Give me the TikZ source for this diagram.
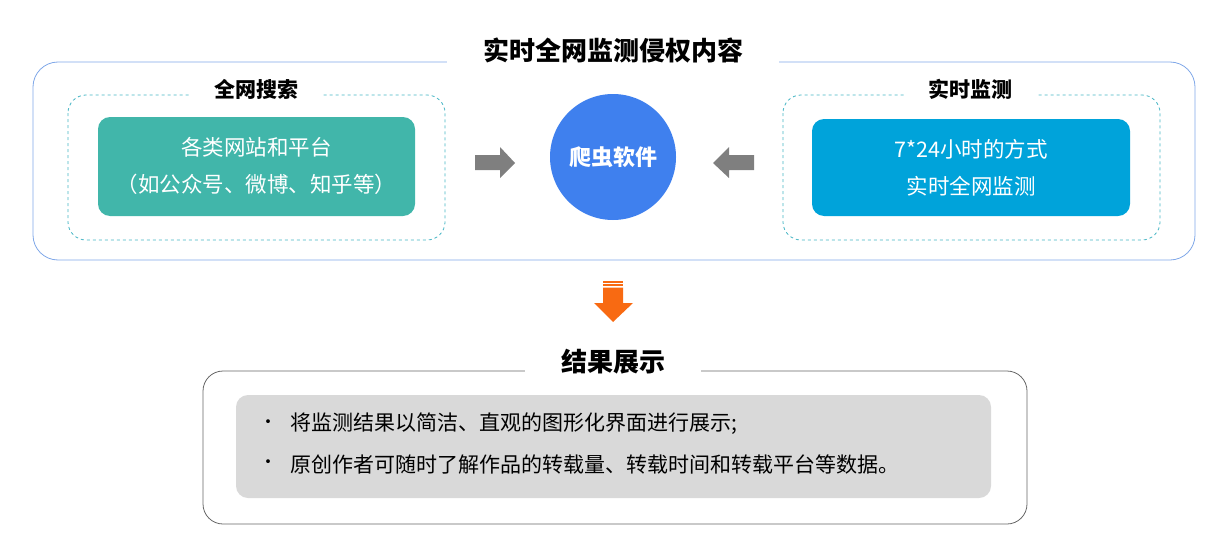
\documentclass[tikz,border=0pt]{standalone}
\usepackage{fontspec}
\setmainfont{Noto Sans CJK SC}
\begin{document}
\begin{tikzpicture}[x=1pt,y=-1pt,
  ttl/.style={fill=white,inner xsep=36pt,font=\fontsize{26}{28}\selectfont\bfseries},
  sttl/.style={fill=white,inner xsep=24pt,font=\fontsize{21}{23}\selectfont\bfseries},
  btxt/.style={text=white,font=\fontsize{21.5}{24}\selectfont},
  dbox/.style={draw=dcol,dashed,line width=0.8pt,rounded corners=18pt},
  btx/.style={anchor=west,font=\fontsize{21}{24}\selectfont}]
\useasboundingbox (0,0) rectangle (1231,551);
\definecolor{outer}{HTML}{7FA7E8}
\definecolor{dcol}{HTML}{45B5C4}
\definecolor{tealbox}{HTML}{41B6AA}
\definecolor{bluebox}{HTML}{00A3DA}
\definecolor{circ}{HTML}{3F80EE}
\definecolor{orng}{HTML}{F86A12}
\definecolor{garr}{HTML}{7F7F7F}
\draw[outer,line width=0.8pt,rounded corners=25pt] (33,62) rectangle (1195,260);
\node[ttl] (t1) at (613,50) {实时全网监测侵权内容};
\draw[dbox] (68,95) rectangle (445,240);
\node[sttl] (l1) at (256,89) {全网搜索};
\fill[tealbox,rounded corners=12pt] (98,117) rectangle (415,216);
\node[btxt] (a1) at (256.5,147) {各类网站和平台};
\node[btxt] (a2) at (256.5,184) {（如公众号、微博、知乎等）};
\draw[dbox] (783,95) rectangle (1160,240);
\node[sttl] (l2) at (970,89) {实时监测};
\fill[bluebox,rounded corners=12pt] (812,119) rectangle (1130,216);
\node[btxt] (b1) at (971,149) {7*24小时的方式};
\node[btxt] (b2) at (971,186) {实时全网监测};
\node[circle,fill=circ,minimum size=126pt,inner sep=0,text=white,font=\fontsize{22}{24}\selectfont\bfseries] (c) at (613,157) {爬虫软件};
\fill[garr] (475,155) -- (500,155) -- (500,147) -- (515,163) -- (500,178) -- (500,170) -- (475,170) -- cycle;
\fill[garr] (754,155) -- (729,155) -- (729,147) -- (713,163) -- (729,178) -- (729,170) -- (754,170) -- cycle;
\fill[orng] (603,281) rectangle (623,282.5);
\fill[orng] (603,284) rectangle (623,286);
\fill[orng] (603,287.5) -- (623,287.5) -- (623,303) -- (633,303) -- (613,322) -- (594,303) -- (603,303) -- cycle;
\draw[gray!80!black,line width=0.8pt,rounded corners=20pt] (203,371) rectangle (1027,524);
\node[ttl] (t2) at (613,362) {结果展示};
\fill[gray!30,rounded corners=12pt] (236,395) rectangle (991,498);
\node[font=\fontsize{18}{20}\selectfont] (d1) at (268,424) {•};
\node[btx] (e1) at (287,424) {将监测结果以简洁、直观的图形化界面进行展示;};
\node[font=\fontsize{18}{20}\selectfont] (d2) at (268,464) {•};
\node[btx] (e2) at (287,464) {原创作者可随时了解作品的转载量、转载时间和转载平台等数据。};
\end{tikzpicture}
\end{document}
